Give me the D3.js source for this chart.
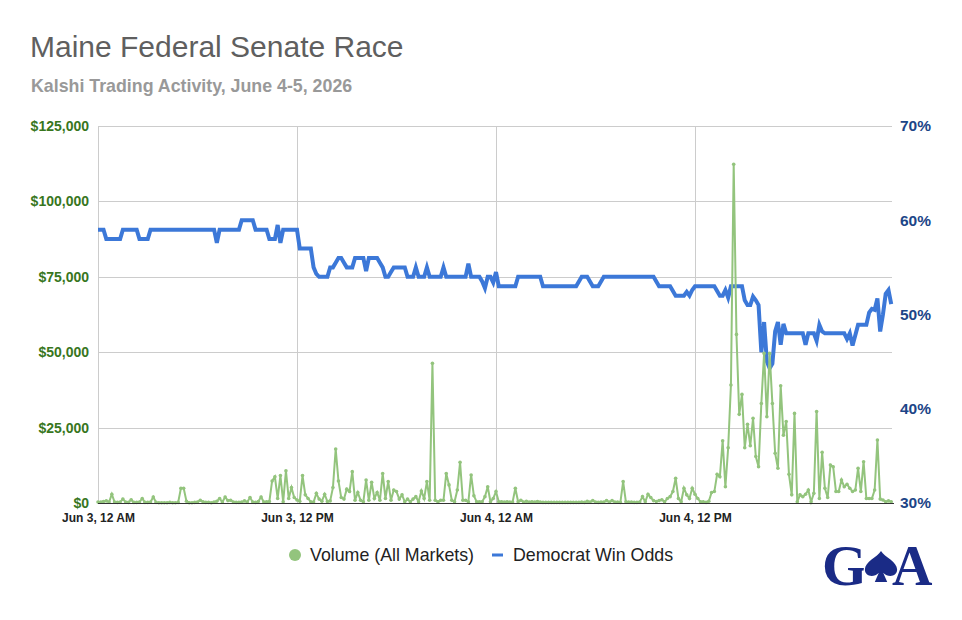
<!DOCTYPE html>
<html>
<head>
<meta charset="utf-8">
<script src="https://cdn.jsdelivr.net/npm/d3@7"></script>
<style>
  body { margin: 0; background: #fff; }
  svg text { font-family: 'Liberation Sans', Arial, sans-serif; }
</style>
</head>
<body>
<svg id="chart" width="962" height="620"></svg>
<script>
// 10-minute buckets, Jun 3 00:00 -> Jun 4 23:50
var volume = [
  300, 300, 500, 700, 300, 2900, 300, 200, 300, 1300, 300, 200,
  1100, 200, 200, 300, 1500, 200, 200, 300, 2000, 200, 100, 100,
  100, 100, 200, 100, 100, 200, 4900, 4900, 600, 100, 100, 200,
  300, 900, 400, 200, 200, 100, 300, 600, 1500, 300, 2000, 800,
  900, 300, 200, 200, 300, 700, 300, 1800, 300, 200, 500, 2000,
  300, 400, 500, 7300, 8700, 1500, 9100, 400, 10700, 1500, 5100, 1800,
  1000, 600, 9100, 2700, 1500, 400, 300, 3200, 1300, 600, 2900, 500,
  700, 5100, 17900, 7300, 1800, 1300, 4600, 3800, 10400, 900, 3500, 900,
  400, 7600, 900, 6900, 1500, 3500, 900, 9800, 1500, 7100, 900, 4300,
  3800, 1300, 2700, 400, 1300, 400, 1300, 2100, 400, 4000, 1500, 7100,
  900, 46300, 900, 400, 900, 900, 9800, 6000, 900, 400, 4300, 13500,
  900, 900, 400, 9300, 2400, 400, 400, 400, 2100, 5400, 400, 1500,
  3800, 400, 400, 300, 400, 300, 300, 4900, 400, 900, 300, 600,
  300, 400, 300, 500, 300, 200, 200, 200, 200, 200, 200, 200,
  200, 200, 200, 200, 200, 200, 200, 300, 200, 600, 300, 800,
  300, 200, 300, 300, 800, 300, 800, 300, 300, 200, 7100, 400,
  300, 300, 200, 200, 300, 2100, 400, 2900, 1800, 800, 500, 800,
  1100, 400, 1500, 2100, 3800, 8200, 1500, 400, 4900, 2700, 1500, 4900,
  2900, 1500, 400, 400, 200, 600, 3500, 3800, 9500, 8700, 20600, 5400,
  18300, 39100, 112300, 55900, 29400, 36000, 18300, 26100, 19000, 28100, 15400, 12000,
  33000, 49600, 28600, 49600, 33000, 16500, 11500, 38900, 22500, 27000, 9500, 2700,
  29700, 400, 2700, 2100, 2900, 4300, 400, 3200, 30300, 1500, 16800, 4900,
  1800, 12600, 12000, 3800, 3800, 7600, 5400, 6200, 4900, 3800, 4300, 11500,
  3800, 13700, 1500, 1500, 1500, 4300, 20900, 1300, 1000, 400, 700, 400
];
var odds = [
  59, 59, 59, 58, 58, 58, 58, 58, 58, 59, 59, 59,
  59, 59, 59, 58, 58, 58, 58, 59, 59, 59, 59, 59,
  59, 59, 59, 59, 59, 59, 59, 59, 59, 59, 59, 59,
  59, 59, 59, 59, 59, 59, 59, 57.6, 59, 59, 59, 59,
  59, 59, 59, 59, 60, 60, 60, 60, 60, 59, 59, 59,
  59, 59, 58, 58, 58, 59.5, 57.6, 59, 59, 59, 59, 59,
  59, 57, 57, 57, 57, 57, 55, 54.3, 54, 54, 54, 54,
  55, 55, 55.5, 56, 56, 55.5, 55, 55, 55, 56, 56, 56,
  56, 54.6, 56, 56, 56, 56, 55.5, 55, 54, 54, 54.5, 55,
  55, 55, 55, 55, 54, 54, 54, 55, 54, 54, 54, 55,
  54, 54, 54, 54, 54, 55, 54, 54, 54, 54, 54, 54,
  54, 54, 55.4, 54, 54, 54, 54, 53.5, 52.8, 54, 54, 53.4,
  54.5, 53, 53, 53, 53, 53, 53, 53, 54, 54, 54, 54,
  54, 54, 54, 54, 54, 53, 53, 53, 53, 53, 53, 53,
  53, 53, 53, 53, 53, 53, 53.5, 54, 54, 54, 53.5, 53,
  53, 53, 53.5, 54, 54, 54, 54, 54, 54, 54, 54, 54,
  54, 54, 54, 54, 54, 54, 54, 54, 54, 54, 53.5, 53,
  53, 53, 53, 53, 52.5, 52, 52, 52, 52, 52.4, 52, 52.6,
  53, 53, 53, 53, 53, 53, 53, 53, 52.5, 52, 52, 52.6,
  51.8, 53, 53, 53, 53, 53, 51.5, 51, 51, 51.9, 51.5, 51,
  46, 49.2, 45, 44.3, 44.8, 48.2, 49.2, 46.8, 49, 48, 48, 48,
  48, 48, 48, 48, 46.8, 48, 48, 48, 47.2, 48.9, 48.2, 48,
  48, 48, 48, 48, 48, 48, 48, 47.4, 48, 46.7, 47.8, 48.9,
  48.9, 48.9, 48.9, 50.2, 50.6, 50.5, 51.7, 48.2, 50, 52.2, 52.6, 51.1
];
var volTicks   = [ 0, 25000, 50000, 75000, 100000, 125000 ];
var oddsTicks  = [ 30, 40, 50, 60, 70 ];
var timeTicks  = [ '2026-06-03T00:00', '2026-06-03T12:00', '2026-06-04T00:00', '2026-06-04T12:00' ];
var timeLabels = [ 'Jun 3, 12 AM', 'Jun 3, 12 PM', 'Jun 4, 12 AM', 'Jun 4, 12 PM' ];
var seriesNames = [ 'Volume (All Markets)', 'Democrat Win Odds' ];

var C = {
	  vol   : '#93c47d'
	, odds  : '#3c78d8'
	, volAx : '#38761d'
	, oddAx : '#1c4587'
	, grid  : '#cccccc'
	, logo  : '#1a2b86'
}
var plot = { left: 98, right: 894, top: 126, bottom: 503 };

var svg   = d3.select( '#chart' );
var start = new Date( 2026, 5, 3 );
var end   = new Date( 2026, 5, 5 );
var times = volume.map( ( v, i ) => d3.timeMinute.offset( start, i * 10 ) );
var tickDates = timeTicks.map( d => new Date( d ) );

var x     = d3.scaleTime().domain( [ start, end ] ).range( [ plot.left, plot.right ] );
var yVol  = d3.scaleLinear().domain( [ 0, 125000 ] ).range( [ plot.bottom, plot.top ] );
var yOdds = d3.scaleLinear().domain( [ 30, 70 ] ).range( [ plot.bottom, plot.top ] );

// titles
svg.append( 'text' )
	.attr( 'x', 30 ).attr( 'y', 57 )
	.attr( 'font-size', 30 ).attr( 'fill', '#5f5f5f' )
	.text( 'Maine Federal Senate Race' );
svg.append( 'text' )
	.attr( 'x', 31 ).attr( 'y', 92 )
	.attr( 'font-size', 17.8 ).attr( 'font-weight', 'bold' ).attr( 'fill', '#999' )
	.text( 'Kalshi Trading Activity, June 4-5, 2026' );

// grid
svg.append( 'g' )
	.selectAll( 'line' )
	.data( volTicks )
	.join( 'line' )
	.attr( 'x1', plot.left ).attr( 'x2', plot.right - 2 )
	.attr( 'y1', d => Math.round( yVol( d ) ) + 0.5 ).attr( 'y2', d => Math.round( yVol( d ) ) + 0.5 )
	.attr( 'stroke', C.grid );
svg.append( 'g' )
	.selectAll( 'line' )
	.data( tickDates )
	.join( 'line' )
	.attr( 'x1', d => Math.round( x( d ) ) + 0.5 ).attr( 'x2', d => Math.round( x( d ) ) + 0.5 )
	.attr( 'y1', plot.top ).attr( 'y2', plot.bottom )
	.attr( 'stroke', C.grid );

// axes
var axL = svg.append( 'g' )
	.attr( 'transform', 'translate(' + plot.left + ',0)' )
	.call( d3.axisLeft( yVol ).tickValues( volTicks ).tickSize( 0 ).tickPadding( 9 ).tickFormat( d3.format( '$,' ) ) );
axL.select( '.domain' ).remove();
axL.selectAll( 'text' )
	.attr( 'font-size', 14 ).attr( 'font-weight', 'bold' ).attr( 'fill', C.volAx )
	.style( 'font-family', "'Liberation Sans', Arial, sans-serif" );

var axR = svg.append( 'g' )
	.attr( 'transform', 'translate(' + ( plot.right - 1 ) + ',0)' )
	.call( d3.axisRight( yOdds ).tickValues( oddsTicks ).tickSize( 0 ).tickPadding( 7 ).tickFormat( d => d + '%' ) );
axR.select( '.domain' ).remove();
axR.selectAll( 'text' )
	.attr( 'font-size', 15.5 ).attr( 'font-weight', 'bold' ).attr( 'fill', C.oddAx )
	.style( 'font-family', "'Liberation Sans', Arial, sans-serif" );

var axB = svg.append( 'g' )
	.attr( 'transform', 'translate(0,' + plot.bottom + ')' )
	.call( d3.axisBottom( x ).tickValues( tickDates ).tickSize( 0 ).tickPadding( 10 ).tickFormat( ( d, i ) => timeLabels[ i ] ) );
axB.select( '.domain' ).remove();
axB.selectAll( 'text' )
	.attr( 'font-size', 12 ).attr( 'font-weight', 'bold' ).attr( 'fill', '#222' )
	.style( 'font-family', "'Liberation Sans', Arial, sans-serif" );

// odds line
var oddsLine = d3.line()
	.x( ( d, i ) => x( times[ i ] ) )
	.y( d => yOdds( d ) );
svg.append( 'path' )
	.datum( odds )
	.attr( 'd', oddsLine )
	.attr( 'fill', 'none' )
	.attr( 'stroke', C.odds )
	.attr( 'stroke-width', 4 )
	.attr( 'stroke-linejoin', 'miter' );

// volume line + dots
var volLine = d3.line()
	.x( ( d, i ) => x( times[ i ] ) )
	.y( d => yVol( d ) );
svg.append( 'path' )
	.datum( volume )
	.attr( 'd', volLine )
	.attr( 'fill', 'none' )
	.attr( 'stroke', C.vol )
	.attr( 'stroke-width', 2 );
svg.append( 'g' )
	.selectAll( 'circle' )
	.data( volume )
	.join( 'circle' )
	.attr( 'cx', ( d, i ) => x( times[ i ] ) )
	.attr( 'cy', d => yVol( d ) )
	.attr( 'r', 1.8 )
	.attr( 'fill', C.vol );

// baseline
svg.append( 'line' )
	.attr( 'x1', plot.left ).attr( 'x2', plot.right )
	.attr( 'y1', plot.bottom + 0.5 ).attr( 'y2', plot.bottom + 0.5 )
	.attr( 'stroke', '#333' );

// legend
var lg = svg.append( 'g' ).attr( 'font-size', 17.8 ).attr( 'fill', '#222' );
lg.append( 'circle' ).attr( 'cx', 295 ).attr( 'cy', 555 ).attr( 'r', 6 ).attr( 'fill', C.vol );
lg.append( 'text' ).attr( 'x', 310 ).attr( 'y', 561 ).text( seriesNames[ 0 ] );
lg.append( 'rect' ).attr( 'x', 492 ).attr( 'y', 553.5 ).attr( 'width', 11 ).attr( 'height', 3 ).attr( 'fill', C.odds );
lg.append( 'text' ).attr( 'x', 513 ).attr( 'y', 561 ).text( seriesNames[ 1 ] );

// logo: G, spade, A
var logo = svg.append( 'g' ).attr( 'fill', C.logo );
logo.append( 'text' ).attr( 'x', 822 ).attr( 'y', 585 )
	.attr( 'font-size', 58 ).attr( 'font-weight', 'bold' )
	.style( 'font-family', "'Liberation Serif', 'DejaVu Serif', serif" )
	.text( 'G' );
logo.append( 'text' ).attr( 'x', 892 ).attr( 'y', 585 )
	.attr( 'font-size', 56 ).attr( 'font-weight', 'bold' )
	.style( 'font-family', "'Liberation Serif', 'DejaVu Serif', serif" )
	.text( 'A' );
var spade = 'M0,0 C-0.12,0.2 -0.52,0.34 -0.52,0.6 C-0.52,0.82 -0.24,0.88 -0.07,0.7 '
	+ 'L-0.2,1 L0.2,1 L0.07,0.7 C0.24,0.88 0.52,0.82 0.52,0.6 C0.52,0.34 0.12,0.2 0,0 Z';
logo.append( 'path' )
	.attr( 'd', spade )
	.attr( 'transform', 'translate(881,551) scale(31)' )
	.attr( 'stroke', '#fff' )
	.attr( 'stroke-width', 0.08 )
	.attr( 'paint-order', 'stroke' );
</script>
</body>
</html>
